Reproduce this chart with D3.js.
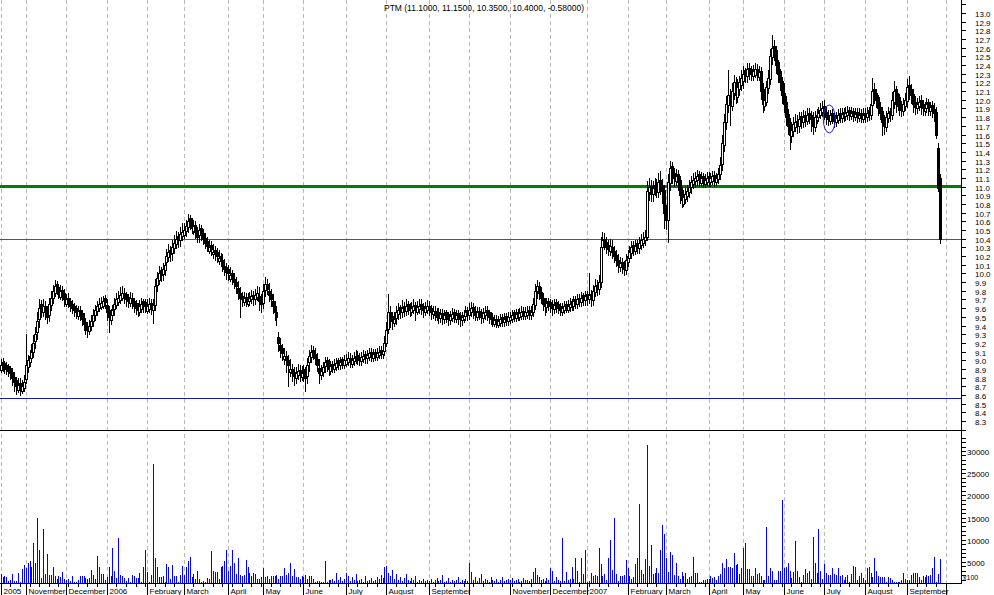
<!DOCTYPE html>
<html><head><meta charset="utf-8">
<script src="https://cdn.jsdelivr.net/npm/d3@7"></script>
<style>body{margin:0;background:#fff}svg{display:block}text{font-family:"Liberation Sans",Arial,sans-serif;fill:#000}</style>
</head><body><svg id="c" width="994" height="595"></svg>
<script>
// ---------- DATA ----------
const title = "PTM (11.1000, 11.1500, 10.3500, 10.4000, -0.58000)";
const monthLabels = ["2005","November","December","2006","February","March","April","May","June","July","August","September","","November","December","2007","February","March","April","May","June","July","August","September",""];
const monthDays = [13,21,21,21,19,23,18,21,22,21,22,21,21,21,19,21,20,22,18,21,21,21,22,20];
const priceTicks = [8.2,8.3,8.4,8.5,8.6,8.7,8.8,8.9,9.0,9.1,9.2,9.3,9.4,9.5,9.6,9.7,9.8,9.9,10.0,10.1,10.2,10.3,10.4,10.5,10.6,10.7,10.8,10.9,11.0,11.1,11.2,11.3,11.4,11.5,11.6,11.7,11.8,11.9,12.0,12.1,12.2,12.3,12.4,12.5,12.6,12.7,12.8,12.9,13.0,13.1];
const volumeTicks = [5000,10000,15000,20000,25000,30000];
const supportLines = [11.0, 10.4];
const lowLine = 8.57;

// one inner array per month
const open = [
[8.89,8.98,8.97,8.95,8.93,8.91,8.86,8.81,8.77,8.66,8.74,8.64,8.68],
[8.78,8.92,8.98,9.03,9.10,9.22,9.33,9.47,9.65,9.55,9.62,9.57,9.52,9.64,9.72,9.78,9.88,9.84,9.73,9.81,9.77],
[9.65,9.72,9.68,9.65,9.63,9.60,9.51,9.58,9.54,9.48,9.44,9.40,9.34,9.39,9.45,9.52,9.57,9.60,9.61,9.63,9.72],
[9.64,9.58,9.46,9.52,9.59,9.64,9.67,9.69,9.72,9.78,9.76,9.73,9.66,9.72,9.68,9.66,9.63,9.56,9.59,9.68,9.67],
[9.57,9.59,9.66,9.58,9.64,9.87,9.93,10.04,9.99,10.04,10.13,10.19,10.27,10.24,10.29,10.34,10.43,10.39,10.43],
[10.44,10.49,10.54,10.64,10.59,10.49,10.56,10.49,10.44,10.52,10.46,10.41,10.37,10.26,10.33,10.22,10.27,10.25,10.14,10.20,10.15,10.09,10.07],
[10.05,9.94,10.00,9.94,9.90,9.83,9.77,9.74,9.67,9.73,9.65,9.68,9.70,9.75,9.70,9.73,9.74,9.70],
[9.66,9.81,9.88,9.80,9.76,9.68,9.61,9.56,9.27,9.18,9.14,9.01,9.05,9.00,8.86,8.90,8.87,8.80,8.83,8.89,8.81],
[8.90,8.86,8.82,8.98,9.04,9.12,9.07,9.01,8.91,8.83,8.86,8.93,9.00,8.95,8.88,8.96,8.90,8.92,9.00,8.94,9.01,8.95],
[8.96,8.98,9.03,8.96,8.99,9.01,9.06,9.04,8.99,9.01,9.07,9.02,9.04,9.09,9.03,9.10,9.04,9.06,9.12,9.07,9.11],
[9.20,9.36,9.56,9.51,9.43,9.49,9.53,9.61,9.55,9.63,9.57,9.65,9.63,9.56,9.58,9.64,9.56,9.59,9.65,9.62,9.56,9.58],
[9.63,9.60,9.53,9.57,9.50,9.55,9.49,9.54,9.47,9.55,9.53,9.46,9.49,9.55,9.48,9.54,9.52,9.46,9.48,9.51,9.58],
[9.52,9.56,9.61,9.57,9.50,9.57,9.55,9.49,9.52,9.58,9.55,9.52,9.50,9.42,9.48,9.41,9.43,9.50,9.44,9.51,9.45],
[9.46,9.48,9.55,9.49,9.56,9.50,9.51,9.57,9.51,9.52,9.58,9.52,9.56,9.64,9.80,9.86,9.79,9.72,9.67,9.61,9.68],
[9.67,9.65,9.59,9.67,9.65,9.63,9.55,9.58,9.65,9.58,9.61,9.68,9.63,9.71,9.65,9.72,9.67,9.75,9.69],
[9.76,9.70,9.76,9.69,9.79,9.87,9.82,9.90,10.31,10.40,10.36,10.33,10.26,10.31,10.26,10.21,10.16,10.07,10.13,10.10,10.04],
[10.13,10.18,10.24,10.33,10.26,10.35,10.29,10.33,10.35,10.38,10.42,10.94,11.01,10.91,10.96,11.03,10.94,11.08,11.02,10.96],
[10.72,10.62,11.04,11.24,11.16,11.06,11.14,11.08,10.92,10.80,10.86,10.89,10.94,11.00,11.03,11.06,11.08,11.14,11.04,11.12,11.03,11.05],
[11.12,11.05,11.07,11.13,11.05,11.09,11.14,11.26,11.48,11.74,11.94,12.06,11.93,12.08,12.21,12.03,12.12,12.17],
[12.22,12.34,12.27,12.37,12.35,12.27,12.29,12.36,12.26,12.33,12.12,11.93,11.98,12.14,12.24,12.49,12.62,12.57,12.43,12.33,12.22],
[12.08,11.97,11.84,11.73,11.58,11.64,11.69,11.76,11.70,11.81,11.74,11.83,11.76,11.85,11.82,11.79,11.69,11.77,11.80,11.83,11.86],
[11.93,11.86,11.83,11.76,11.85,11.82,11.74,11.77,11.85,11.79,11.86,11.81,11.82,11.88,11.81,11.87,11.80,11.86,11.79,11.85,11.78],
[11.85,11.80,11.88,11.83,11.94,12.12,12.08,12.03,11.92,11.87,11.76,11.69,11.79,11.87,11.82,11.98,12.12,11.93,12.03,11.93,11.87,11.93],
[11.99,12.17,12.13,12.07,11.97,11.90,11.93,12.00,11.95,11.87,11.91,11.97,11.87,11.94,11.89,11.86,11.45,11.10]
];
const high = [
[9.01,9.03,8.99,8.98,8.96,8.93,8.91,8.86,8.81,8.79,8.80,8.77,8.83],
[9.30,9.06,9.12,9.19,9.29,9.38,9.55,9.70,9.69,9.70,9.68,9.62,9.72,9.80,9.87,9.92,9.91,9.88,9.87,9.85,9.82],
[9.76,9.77,9.72,9.69,9.66,9.64,9.63,9.63,9.58,9.54,9.49,9.44,9.46,9.52,9.59,9.64,9.68,9.72,9.73,9.74,9.75],
[9.70,9.62,9.59,9.64,9.72,9.77,9.80,9.84,9.86,9.83,9.79,9.76,9.79,9.77,9.72,9.69,9.66,9.69,9.72,9.71,9.70],
[9.70,9.72,9.71,9.70,9.94,10.02,10.08,10.07,10.12,10.18,10.28,10.34,10.32,10.38,10.44,10.49,10.48,10.54,10.58],
[10.58,10.62,10.68,10.67,10.64,10.62,10.60,10.54,10.57,10.56,10.51,10.46,10.42,10.39,10.37,10.34,10.32,10.29,10.27,10.24,10.22,10.17,10.12],
[10.10,10.07,10.04,10.01,9.96,9.91,9.84,9.79,9.79,9.78,9.77,9.79,9.81,9.80,9.82,9.86,9.84,9.76],
[9.88,9.96,9.94,9.89,9.82,9.76,9.68,9.62,9.32,9.26,9.19,9.14,9.11,9.06,9.01,8.96,8.92,8.92,8.96,8.94,8.93],
[8.94,8.92,9.02,9.12,9.17,9.16,9.14,9.08,9.01,8.94,8.98,9.04,9.04,9.01,8.99,8.99,9.01,9.03,9.03,9.04,9.04,9.06],
[9.07,9.09,9.08,9.06,9.09,9.12,9.11,9.08,9.10,9.12,9.11,9.12,9.14,9.14,9.13,9.13,9.14,9.16,9.16,9.19,9.28],
[9.44,9.76,9.62,9.56,9.56,9.62,9.66,9.64,9.69,9.67,9.70,9.68,9.66,9.67,9.71,9.67,9.68,9.70,9.70,9.66,9.67,9.69],
[9.68,9.64,9.63,9.63,9.60,9.60,9.59,9.59,9.58,9.58,9.56,9.57,9.60,9.59,9.58,9.58,9.55,9.56,9.58,9.62,9.61],
[9.66,9.67,9.66,9.62,9.61,9.61,9.59,9.60,9.63,9.62,9.58,9.56,9.54,9.52,9.52,9.51,9.53,9.53,9.54,9.54,9.56],
[9.56,9.58,9.58,9.59,9.59,9.60,9.62,9.61,9.61,9.62,9.62,9.62,9.72,9.88,9.92,9.90,9.84,9.78,9.72,9.72,9.72],
[9.71,9.69,9.70,9.70,9.68,9.66,9.66,9.68,9.68,9.69,9.72,9.71,9.74,9.74,9.76,9.76,9.79,9.78,9.80],
[9.80,10.00,9.81,9.87,9.94,9.92,9.98,10.42,10.48,10.46,10.42,10.38,10.40,10.38,10.32,10.27,10.22,10.19,10.18,10.14,10.22],
[10.27,10.32,10.37,10.37,10.39,10.38,10.42,10.45,10.48,10.50,11.06,11.10,11.08,11.06,11.10,11.09,11.16,11.18,11.09,11.02],
[10.79,11.14,11.30,11.28,11.22,11.20,11.19,11.12,10.99,10.96,11.00,11.02,11.08,11.12,11.16,11.17,11.19,11.18,11.17,11.16,11.15,11.17],
[11.17,11.16,11.18,11.18,11.16,11.22,11.34,11.59,11.84,12.04,12.34,12.12,12.19,12.29,12.26,12.24,12.28,12.34],
[12.39,12.37,12.42,12.42,12.39,12.40,12.42,12.41,12.39,12.38,12.19,12.09,12.22,12.34,12.59,12.75,12.69,12.62,12.46,12.36,12.26],
[12.19,12.04,11.89,11.79,11.74,11.80,11.84,11.82,11.86,11.86,11.88,11.87,11.90,11.90,11.87,11.86,11.87,11.89,11.92,11.96,11.99],
[12.00,11.92,11.88,11.88,11.89,11.86,11.86,11.89,11.90,11.91,11.91,11.92,11.93,11.92,11.92,11.90,11.91,11.90,11.90,11.89,11.90],
[11.90,11.92,11.92,12.02,12.25,12.19,12.12,12.06,11.97,11.92,11.82,11.87,11.92,11.91,12.09,12.22,12.16,12.08,12.07,11.99,12.02,12.08],
[12.24,12.28,12.18,12.12,12.04,12.02,12.04,12.05,12.00,11.98,12.02,12.01,11.98,11.99,11.96,11.92,11.50,11.15]
];
const low = [
[8.86,8.88,8.85,8.84,8.82,8.78,8.72,8.64,8.61,8.63,8.60,8.62,8.65],
[8.74,8.86,8.93,8.98,9.04,9.14,9.24,9.38,9.50,9.51,9.47,9.43,9.45,9.58,9.66,9.74,9.76,9.72,9.71,9.69,9.63],
[9.62,9.61,9.57,9.54,9.51,9.49,9.48,9.46,9.41,9.35,9.30,9.27,9.30,9.35,9.40,9.46,9.52,9.57,9.59,9.60,9.60],
[9.46,9.32,9.42,9.46,9.52,9.60,9.64,9.66,9.69,9.66,9.63,9.61,9.62,9.60,9.56,9.53,9.51,9.52,9.56,9.56,9.55],
[9.54,9.56,9.53,9.43,9.58,9.80,9.88,9.91,9.92,9.98,10.04,10.14,10.14,10.16,10.24,10.29,10.31,10.32,10.38],
[10.41,10.43,10.48,10.51,10.46,10.45,10.41,10.36,10.36,10.39,10.34,10.29,10.26,10.23,10.21,10.18,10.15,10.13,10.11,10.08,10.03,9.98,9.94],
[9.93,9.91,9.88,9.83,9.78,9.70,9.50,9.63,9.64,9.62,9.62,9.64,9.66,9.64,9.65,9.69,9.58,9.56],
[9.60,9.74,9.76,9.68,9.63,9.54,9.46,9.41,9.11,9.04,9.00,8.96,8.86,8.70,8.82,8.76,8.71,8.74,8.78,8.76,8.77],
[8.76,8.64,8.74,8.88,8.98,9.01,8.96,8.88,8.74,8.78,8.82,8.86,8.88,8.83,8.84,8.86,8.86,8.89,8.90,8.90,8.91,8.91],
[8.93,8.94,8.92,8.92,8.94,8.97,8.96,8.94,8.94,8.98,8.97,8.97,9.00,8.99,8.99,9.00,9.00,9.02,9.02,9.02,9.06],
[9.16,9.31,9.38,9.36,9.39,9.42,9.48,9.49,9.50,9.51,9.52,9.53,9.51,9.52,9.54,9.46,9.53,9.54,9.53,9.50,9.52,9.54],
[9.52,9.48,9.49,9.46,9.46,9.43,9.44,9.42,9.43,9.44,9.41,9.42,9.45,9.44,9.44,9.42,9.40,9.41,9.44,9.46,9.46],
[9.47,9.51,9.49,9.46,9.46,9.47,9.43,9.44,9.48,9.46,9.43,9.42,9.39,9.39,9.38,9.38,9.39,9.40,9.40,9.41,9.41],
[9.43,9.44,9.45,9.45,9.46,9.46,9.48,9.47,9.47,9.49,9.48,9.48,9.51,9.59,9.72,9.71,9.66,9.58,9.52,9.56,9.58],
[9.56,9.52,9.54,9.56,9.54,9.52,9.52,9.54,9.55,9.55,9.57,9.58,9.58,9.60,9.60,9.62,9.62,9.64,9.64],
[9.64,9.66,9.63,9.64,9.74,9.75,9.76,9.84,10.22,10.28,10.23,10.21,10.21,10.18,10.13,10.08,10.02,10.03,10.00,9.98,9.99],
[10.08,10.13,10.18,10.21,10.22,10.23,10.24,10.28,10.31,10.33,10.38,10.85,10.84,10.84,10.90,10.88,10.88,10.91,10.81,10.52],
[10.51,10.36,10.96,11.04,11.01,11.02,10.96,10.81,10.76,10.78,10.81,10.84,10.88,10.93,10.98,11.00,11.02,11.01,11.01,10.99,10.99,11.02],
[11.01,11.01,11.03,11.01,11.02,11.04,11.09,11.19,11.41,11.66,11.86,11.71,11.88,12.01,11.96,11.98,12.06,12.11],
[12.14,12.20,12.21,12.24,12.23,12.23,12.26,12.23,12.23,12.01,11.86,11.88,11.94,12.08,12.18,12.41,12.46,12.31,12.21,12.11,11.96],
[11.86,11.71,11.61,11.43,11.51,11.58,11.64,11.62,11.63,11.68,11.69,11.70,11.72,11.73,11.64,11.61,11.64,11.73,11.76,11.79,11.81],
[11.78,11.72,11.71,11.72,11.73,11.69,11.70,11.73,11.74,11.74,11.76,11.77,11.78,11.77,11.78,11.76,11.77,11.75,11.76,11.74,11.75],
[11.75,11.76,11.77,11.78,11.88,11.96,11.92,11.83,11.78,11.60,11.61,11.64,11.74,11.76,11.78,11.91,11.86,11.88,11.82,11.81,11.82,11.88],
[11.92,12.01,11.96,11.86,11.84,11.85,11.88,11.84,11.82,11.83,11.86,11.82,11.82,11.80,11.76,11.56,10.95,10.35]
];
const close = [
[8.95,8.93,8.92,8.90,8.88,8.85,8.80,8.75,8.70,8.72,8.68,8.70,8.75],
[8.95,9.00,9.05,9.10,9.20,9.30,9.45,9.60,9.58,9.62,9.55,9.50,9.65,9.72,9.80,9.85,9.82,9.78,9.80,9.75,9.70],
[9.70,9.66,9.62,9.60,9.58,9.55,9.57,9.52,9.48,9.42,9.38,9.35,9.40,9.45,9.52,9.58,9.62,9.65,9.66,9.68,9.67],
[9.55,9.50,9.52,9.58,9.65,9.70,9.72,9.75,9.78,9.72,9.70,9.68,9.72,9.66,9.62,9.60,9.58,9.62,9.65,9.63,9.62],
[9.62,9.65,9.60,9.64,9.85,9.95,10.00,9.98,10.05,10.10,10.20,10.25,10.22,10.30,10.35,10.40,10.38,10.45,10.48],
[10.50,10.55,10.60,10.58,10.52,10.55,10.48,10.42,10.50,10.45,10.40,10.35,10.32,10.30,10.28,10.25,10.22,10.20,10.18,10.15,10.10,10.05,10.02],
[10.00,9.98,9.95,9.90,9.85,9.78,9.72,9.70,9.72,9.68,9.70,9.72,9.74,9.70,9.75,9.78,9.68,9.65],
[9.80,9.88,9.82,9.75,9.70,9.62,9.55,9.50,9.20,9.12,9.08,9.05,9.00,8.95,8.90,8.85,8.82,8.85,8.88,8.84,8.86],
[8.85,8.80,8.95,9.05,9.10,9.08,9.02,8.95,8.85,8.88,8.92,8.98,8.95,8.90,8.93,8.92,8.95,8.97,8.96,8.98,8.97,9.00],
[9.00,9.02,8.98,9.00,9.03,9.05,9.02,9.00,9.04,9.05,9.03,9.06,9.08,9.05,9.07,9.06,9.08,9.10,9.08,9.12,9.20],
[9.35,9.55,9.50,9.45,9.48,9.55,9.58,9.56,9.60,9.58,9.62,9.60,9.58,9.60,9.62,9.59,9.61,9.63,9.60,9.58,9.60,9.62],
[9.58,9.55,9.57,9.52,9.54,9.50,9.53,9.49,9.52,9.50,9.48,9.51,9.53,9.50,9.52,9.49,9.47,9.50,9.52,9.55,9.53],
[9.58,9.60,9.55,9.52,9.55,9.53,9.50,9.54,9.56,9.52,9.50,9.48,9.45,9.46,9.44,9.45,9.47,9.46,9.48,9.47,9.50],
[9.50,9.52,9.51,9.53,9.52,9.54,9.55,9.53,9.55,9.56,9.54,9.56,9.65,9.80,9.85,9.78,9.72,9.65,9.62,9.66,9.64],
[9.62,9.60,9.64,9.62,9.60,9.58,9.60,9.62,9.61,9.63,9.65,9.64,9.68,9.66,9.70,9.68,9.72,9.70,9.74],
[9.72,9.75,9.70,9.80,9.85,9.82,9.90,10.30,10.38,10.35,10.30,10.28,10.32,10.25,10.20,10.15,10.10,10.12,10.08,10.05,10.15],
[10.20,10.25,10.30,10.28,10.32,10.30,10.35,10.38,10.40,10.42,10.95,11.00,10.92,10.98,11.02,10.95,11.05,11.00,10.95,10.70],
[10.62,11.05,11.22,11.12,11.10,11.12,11.05,10.90,10.85,10.88,10.92,10.95,11.00,11.05,11.08,11.10,11.12,11.08,11.10,11.06,11.08,11.10],
[11.08,11.10,11.12,11.08,11.10,11.15,11.25,11.50,11.75,11.95,12.05,11.95,12.10,12.20,12.05,12.15,12.20,12.25],
[12.30,12.28,12.35,12.32,12.30,12.33,12.35,12.30,12.32,12.10,11.95,12.00,12.15,12.25,12.50,12.60,12.55,12.40,12.30,12.20,12.05],
[11.95,11.80,11.70,11.60,11.65,11.72,11.75,11.70,11.78,11.76,11.80,11.78,11.82,11.80,11.78,11.70,11.80,11.82,11.85,11.88,11.90],
[11.85,11.80,11.78,11.82,11.80,11.76,11.79,11.82,11.80,11.84,11.83,11.85,11.86,11.84,11.85,11.83,11.84,11.82,11.83,11.81,11.83],
[11.82,11.85,11.84,11.95,12.10,12.05,12.00,11.90,11.85,11.75,11.70,11.80,11.85,11.83,12.00,12.10,11.95,12.00,11.90,11.88,11.95,12.00],
[12.15,12.10,12.05,11.95,11.92,11.95,11.98,11.92,11.90,11.92,11.95,11.90,11.92,11.88,11.85,11.60,10.98,10.40]
];
const volume = [
[2300,1500,1700,1650,750,900,2250,600,750,2550,380,3300,4300],
[3500,4700,5300,3900,9300,4700,15000,7700,1400,12500,2250,6800,2100,2100,3900,1700,1100,1800,1650,2700,1200],
[1000,1200,750,1700,530,530,1000,1700,1900,1800,1300,1050,1300,3150,2100,1050,6400,3900,2300,2300,1000],
[1500,3900,1800,8200,3000,1400,10450,2100,1700,1400,680,1400,530,2100,1700,1300,1400,2550,530,3900,7600],
[2600,530,1950,27000,5800,3750,1500,1500,1700,380,4600,3750,1050,4350,1700,1700,530,2100,4050],
[1950,3900,5100,6200,1500,2250,1100,2900,1100,530,750,530,1400,1050,7370,3000,2800,2800,1050,3900,4050,5300,7750],
[3000,4150,7600,4800,2250,5800,2100,1700,1950,5350,3750,2400,1700,2550,2300,1100,1100,1500],
[3700,1500,1900,1100,1900,1900,1900,1950,1100,1700,1800,3550,2100,2400,4800,1900,3300,1500,1500,1100,1900],
[1500,2000,1100,1700,1900,1100,530,750,600,530,380,5300,530,830,800,1200,600,2500,900,1500,700,1100],
[2500,1800,700,1500,900,2200,600,800,1200,500,1800,700,1000,1400,600,900,1500,1100,2000,1300,3800],
[4000,2500,1800,3200,1200,2200,900,1500,700,1300,2200,800,600,1400,900,1800,500,1000,700,1200,600,900],
[700,1100,500,900,1400,600,800,2100,500,700,1300,400,900,600,1000,1500,500,800,600,1200,700],
[4800,2600,900,1500,700,1300,2200,600,1100,800,500,1600,900,700,1200,400,800,1500,600,900,1100],
[800,1300,600,900,1100,500,700,1400,800,1000,600,1200,2600,3600,2000,1500,900,1200,700,1300,1000],
[3530,3000,750,1500,900,750,10450,750,2800,1000,1100,3900,1050,5800,3000,380,5940,2250,7750],
[530,750,2550,1700,2100,1700,8200,4440,1900,2300,1000,5940,9850,3230,15000,2250,750,1900,1700,2100,5500],
[3700,1900,1100,1500,4440,5800,18100,3230,2250,5560,31400,4140,8870,2300,2550,3530,2550,7600,13400,11350],
[5940,2800,7300,6540,2100,4660,1700,1100,2800,1700,2550,1100,1500,1700,6160,2550,2550,530,530,1000,1000,1100],
[1200,1700,1300,1500,1000,1700,2300,4660,3700,5560,3900,3900,3700,7070,4200,4440,2300,3530],
[8050,9320,3300,3450,1900,1900,3530,2250,2550,1700,1000,1000,12900,1900,3530,3000,1000,1000,3000,3000,18900],
[3530,3900,4800,3000,1300,2800,9600,3000,1500,530,2100,3450,2550,3000,1100,10700,4800,2550,12500,3000,1100],
[4440,2550,2100,1950,3530,2250,2100,3530,1900,2100,1000,1650,2100,530,2250,4140,3900,1000,1700,2550,1400],
[1000,3700,3830,2550,1650,5940,2850,1800,1500,1650,1500,530,1500,1300,1000,530,380,380,530,800,2550,1100],
[900,1000,1950,2550,2550,2550,1650,1000,1700,1500,2100,1700,1950,3530,6160,530,2250,5560]
];

// ---------- CHART ----------
const svg = d3.select("#c");
const monthStart = [0];
monthDays.forEach((d,k)=>monthStart.push(monthStart[k]+d));

const X = d3.scaleLinear().domain([0, 487]).range([0.6, 940.0]);
const Y = d3.scaleLinear().domain([8.3, 13.0]).range([421, 13]);
const V = d3.scaleLinear().domain([0, 30000]).range([584, 451]);

const days = [];
close.forEach((arr,m)=>arr.forEach((c,d)=>{
  days.push({i: monthStart[m]+d, o: open[m][d], h: high[m][d], l: low[m][d], c: c, v: volume[m][d]});
}));

const AX = 961.5;   // right axis line
const gGrid = svg.append("g").attr("shape-rendering","crispEdges");
monthStart.forEach((s,k)=>{
  const gx = Math.round(X(s)) + 0.5;
  gGrid.append("line").attr("x1",gx).attr("x2",gx).attr("y1",0).attr("y2",583)
    .attr("stroke","#b8b8b8").attr("stroke-dasharray","4,3");
});

// title
svg.append("text").attr("x",484).attr("y",11).attr("text-anchor","middle")
  .attr("font-size","8.5px").text(title);

// reference lines
const gRef = svg.append("g").attr("shape-rendering","crispEdges");
gRef.append("line").attr("x1",0).attr("x2",AX).attr("y1",Math.round(Y(lowLine))+0.5).attr("y2",Math.round(Y(lowLine))+0.5)
  .attr("stroke","#1818a8").attr("stroke-width",1);
gRef.append("line").attr("x1",0).attr("x2",AX).attr("y1",430.5).attr("y2",430.5).attr("stroke","#000");

// candles
const gC = svg.append("g").attr("shape-rendering","crispEdges");
days.forEach(d=>{
  const cx = Math.round(X(d.i));
  gC.append("line").attr("x1",cx+0.5).attr("x2",cx+0.5)
    .attr("y1",Math.round(Y(d.h))).attr("y2",Math.round(Y(d.l))+1).attr("stroke","#000");
});
days.forEach(d=>{
  const cx = Math.round(X(d.i));
  const up = d.c >= d.o;
  const yTop = Math.round(Y(Math.max(d.o,d.c)));
  const yBot = Math.round(Y(Math.min(d.o,d.c)));
  gC.append("rect").attr("x",cx-0.5).attr("y",yTop+0.5).attr("width",2).attr("height",Math.max(1,yBot-yTop))
    .attr("fill", up ? "#fff" : "#000").attr("stroke","#000").attr("stroke-width",1);
});

// support lines
gRef.append("line").attr("x1",0).attr("x2",AX).attr("y1",Y(supportLines[0])).attr("y2",Y(supportLines[0]))
  .attr("stroke","#008000").attr("stroke-width",3);
gRef.append("line").attr("x1",0).attr("x2",AX).attr("y1",Math.round(Y(supportLines[1]))+0.5).attr("y2",Math.round(Y(supportLines[1]))+0.5)
  .attr("stroke","#009000").attr("stroke-width",1);

// marker ellipse
svg.append("ellipse").attr("cx",X(427)+5).attr("cy",Y(11.78)).attr("rx",6).attr("ry",14)
  .attr("fill","none").attr("stroke","#2020e0").attr("stroke-width",1);

// volume bars
const gV = svg.append("g").attr("shape-rendering","crispEdges");
days.forEach(d=>{
  const cx = Math.round(X(d.i))+0.5;
  gV.append("line").attr("x1",cx).attr("x2",cx).attr("y1",583).attr("y2",Math.round(V(d.v)))
    .attr("stroke","#0000ff");
});

// bottom axis
const gB = svg.append("g").attr("shape-rendering","crispEdges");
gB.append("line").attr("x1",0).attr("x2",AX).attr("y1",583.5).attr("y2",583.5).attr("stroke","#000");
monthStart.forEach((s,k)=>{
  const gx = Math.round(X(s)) + 0.5;
  gB.append("line").attr("x1",gx).attr("x2",gx).attr("y1",583).attr("y2",595).attr("stroke","#000");
  if (monthLabels[k]) svg.append("text").attr("x",gx+2).attr("y",594).attr("font-size","8px").text(monthLabels[k]);
});
// weekly minor ticks
d3.range(0, 490, 5).forEach(i=>{
  const gx = Math.round(X(i))+0.5;
  gB.append("line").attr("x1",gx).attr("x2",gx).attr("y1",583).attr("y2",587).attr("stroke","#000");
});

// right price axis
const gA = svg.append("g").attr("shape-rendering","crispEdges");
gA.append("line").attr("x1",AX).attr("x2",AX).attr("y1",0).attr("y2",584).attr("stroke","#000");
priceTicks.forEach(t=>{
  const yy = Math.round(Y(t))+0.5;
  gA.append("line").attr("x1",AX).attr("x2",AX+4).attr("y1",yy).attr("y2",yy).attr("stroke","#000");
  if (t>=8.3 && t<=13.0) svg.append("text").attr("x",975).attr("y",yy+3).attr("font-size","8px").text(t.toFixed(1));
});
// volume axis
d3.range(1000, 34000, 1000).forEach(t=>{
  const yy = Math.round(V(t))+0.5;
  if (yy < 432) return;
  gA.append("line").attr("x1",AX).attr("x2",AX+4).attr("y1",yy).attr("y2",yy).attr("stroke","#000");
});
volumeTicks.forEach(t=>{
  const yy = Math.round(V(t))+0.5;
  svg.append("text").attr("x",967).attr("y",yy+3).attr("font-size","8px").text(t);
});
svg.append("text").attr("x",963).attr("y",580).attr("font-size","7px").text("x100");
</script></body></html>
